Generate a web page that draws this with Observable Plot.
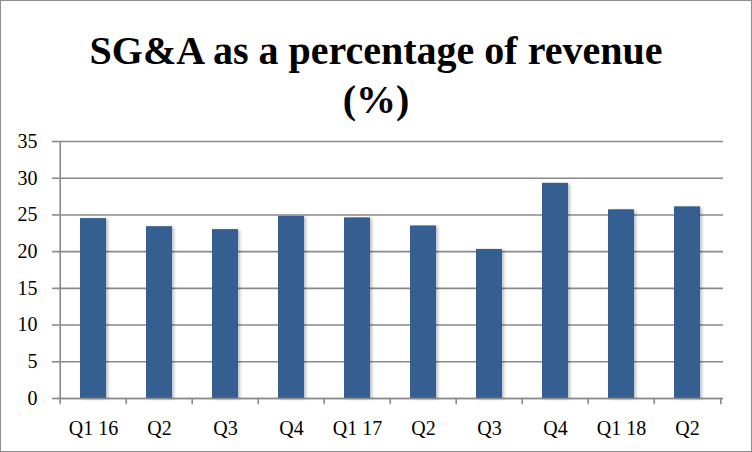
<!DOCTYPE html>
<html>
<head>
<meta charset="utf-8">
<script src="https://cdn.jsdelivr.net/npm/d3@7"></script>
<script src="https://cdn.jsdelivr.net/npm/@observablehq/plot@0.6"></script>
<style>
  body { margin: 0; background: #fff; }
  #wrap { position: relative; width: 752px; height: 452px; box-sizing: border-box; border: 1px solid #8c8c8c; background: #fff; overflow: hidden; }
  #title { height: 124px; box-sizing: border-box; padding-top: 25px; text-align: center; font-family: "Liberation Serif", serif; font-weight: bold; font-size: 40px; line-height: 49px; color: #000; overflow: hidden; }
  svg { display: block; }
</style>
</head>
<body>
<div id="wrap">
  <div id="title">SG&amp;A as a percentage of revenue<br>(%)</div>
  <div id="chart"></div>
</div>
<script>
const quarters = ["Q1 16", "Q2 ", "Q3 ", "Q4 ", "Q1 17", "Q2  ", "Q3  ", "Q4  ", "Q1 18", "Q2   "];
const values = [24.5, 23.4, 23.0, 24.8, 24.6, 23.5, 20.3, 29.3, 25.7, 26.1];
const yTicks = [0, 5, 10, 15, 20, 25, 30, 35];

const data = quarters.map((q, i) => ({q, v: values[i]}));
const W = 750, H = 327, mL = 56, mR = 28;
const bw = (W - mL - mR) / quarters.length;

const chart = Plot.plot({
  width: W,
  height: H,
  marginLeft: mL,
  marginRight: mR,
  marginTop: 16,
  marginBottom: 54,
  style: {fontFamily: "Liberation Serif, serif", fontSize: "20px", color: "#000", background: "#fff"},
  x: {domain: quarters, padding: 0, label: null},
  y: {domain: [0, 35], label: null},
  marks: [
    Plot.gridY(yTicks, {stroke: "#8a8a8a", strokeOpacity: 1, strokeWidth: 1.6}),
    Plot.axisY(yTicks, {tickSize: 5, tickPadding: 15, stroke: "#8a8a8a", strokeWidth: 1.6, fill: "#000", label: null}),
    Plot.axisX({tickSize: 0, tickPadding: 22, fill: "#000", label: null, tickFormat: d => d.trim()}),
    Plot.barY(data, {x: "q", y: "v", fill: "#355f91", insetLeft: 20, insetRight: 20}),
    Plot.ruleX([quarters[0]], {x: d => d, dx: -bw / 2, y1: 0, y2: 35, stroke: "#8a8a8a", strokeWidth: 1.6}),
    Plot.ruleY([0], {stroke: "#8a8a8a", strokeWidth: 1.6}),
    Plot.ruleX(quarters, {x: d => d, dx: -bw / 2, y1: 0, y2: -0.85, stroke: "#8a8a8a", strokeWidth: 1.6}),
    Plot.ruleX([quarters[quarters.length - 1]], {x: d => d, dx: bw / 2, y1: 0, y2: -0.85, stroke: "#8a8a8a", strokeWidth: 1.6})
  ]
});
document.getElementById("chart").appendChild(chart);
d3.select(chart).selectAll('g[aria-label="bar"] rect').style("filter", "drop-shadow(2px 1px 1.5px rgba(0,0,0,0.25))");
</script>
</body>
</html>
